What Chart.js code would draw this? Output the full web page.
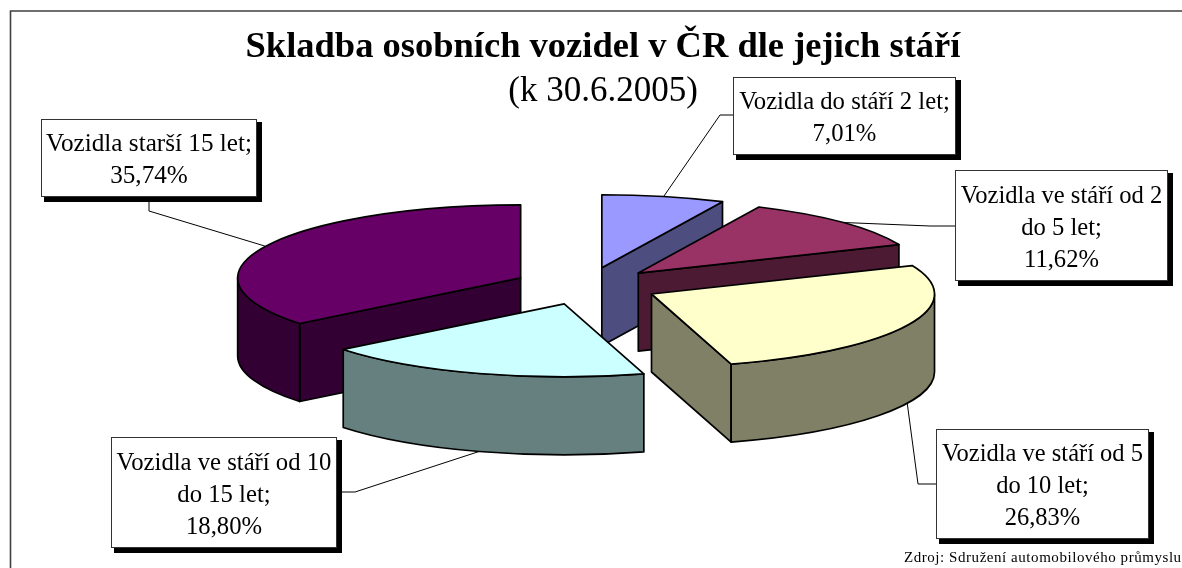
<!DOCTYPE html>
<html lang="cs">
<head>
<meta charset="utf-8">
<title>Skladba osobních vozidel v ČR</title>
<style>html,body{margin:0;padding:0;background:#fff}canvas{display:block}</style>
<script src="https://cdn.jsdelivr.net/npm/chart.js@4/dist/chart.umd.min.js"></script>
</head>
<body>
<canvas id="c" width="1182" height="568"></canvas>
<script>
const titleText = "Skladba osobních vozidel v ČR dle jejich stáří";
const subtitleText = "(k 30.6.2005)";
const sourceText = "Zdroj: Sdružení automobilového průmyslu";
const categories = ["Vozidla do stáří 2 let","Vozidla ve stáří od 2 do 5 let","Vozidla ve stáří od 5 do 10 let","Vozidla ve stáří od 10 do 15 let","Vozidla starší 15 let"];
const values = [7.01, 11.62, 26.83, 18.80, 35.74];
const topColors = ["#9999FF","#993366","#FFFFCC","#CCFFFF","#660066"];
const wallColors = ["#4D4D80","#4D1A33","#808066","#668080","#330033"];

// 3D projection settings
const view = {cx:586, cy:286, radius:283, squash:0.258, explode:72.5, depth:78};
// label boxes: x, y, w, h; words on the first line; leader elbow; font size
const labelBoxes = [
  {x:733,y:77,w:223,h:78,words:99,from:[733,115],elbow:[720,115],size:24.7},
  {x:955,y:170,w:213,h:111,words:5,from:[955,226],elbow:[930,226],size:24.6},
  {x:936,y:429,w:213,h:110,words:5,from:[936,484],elbow:[918,484],size:24.5},
  {x:111,y:437,w:226,h:111,words:5,from:[337,492],elbow:[355,492],size:24.7},
  {x:41,y:119,w:216,h:78,words:99,from:[149,197],elbow:[149,211],size:25.2}
];
const SERIF = '"Liberation Serif","Times New Roman",serif';

function apex(arc){
  const mid=(arc.startAngle+arc.endAngle)/2;
  return {
    x:view.cx+Math.cos(mid)*view.explode,
    y:view.cy+Math.sin(mid)*view.explode*view.squash,
    mid
  };
}
function pt(p,a,d){
  return [p.x+view.radius*Math.cos(a), p.y+view.radius*view.squash*Math.sin(a)+(d||0)];
}
function paint(ctx,fill){
  ctx.fillStyle=fill; ctx.fill();
  ctx.lineWidth=1.7; ctx.strokeStyle="#000"; ctx.lineJoin="round"; ctx.stroke();
}
function cutFace(ctx,p,a,fill){
  const q=pt(p,a);
  ctx.beginPath();
  ctx.moveTo(p.x,p.y); ctx.lineTo(q[0],q[1]);
  ctx.lineTo(q[0],q[1]+view.depth); ctx.lineTo(p.x,p.y+view.depth);
  ctx.closePath(); paint(ctx,fill);
}
function arcWall(ctx,p,a0,a1,fill){
  const ry=view.radius*view.squash;
  const q=pt(p,a1);
  ctx.beginPath();
  ctx.ellipse(p.x,p.y,view.radius,ry,0,a0,a1);
  ctx.lineTo(q[0],q[1]+view.depth);
  ctx.ellipse(p.x,p.y+view.depth,view.radius,ry,0,a1,a0,true);
  ctx.closePath(); paint(ctx,fill);
}

const pie3d = {
  id:"pie3d",
  beforeDraw(chart){
    const ctx=chart.ctx;
    ctx.save();
    ctx.strokeStyle="#404040"; ctx.lineWidth=1.6;
    ctx.beginPath(); ctx.moveTo(10.5,568); ctx.lineTo(10.5,11); ctx.lineTo(1182,11); ctx.stroke();
    ctx.restore();
  },
  beforeDatasetsDraw(chart){
    const ctx=chart.ctx, arcs=chart.getDatasetMeta(0).data;
    const order=arcs.map((a,i)=>i).sort((i,j)=>apex(arcs[i]).y-apex(arcs[j]).y);
    for(const i of order){
      const arc=arcs[i], p=apex(arc), s=arc.startAngle, e=arc.endAngle;
      ctx.save();
      if(Math.cos(s)<-1e-6) cutFace(ctx,p,s,wallColors[i]);
      if(Math.cos(e)>1e-6) cutFace(ctx,p,e,wallColors[i]);
      const f0=Math.max(s,0), f1=Math.min(e,Math.PI);
      if(f1>f0) arcWall(ctx,p,f0,f1,wallColors[i]);
      // top face through the library's arc element, squashed
      ctx.save();
      ctx.translate(p.x,p.y); ctx.scale(1,view.squash); ctx.translate(-arc.x,-arc.y);
      arc.draw(ctx);
      ctx.restore();
      ctx.beginPath();
      ctx.moveTo(p.x,p.y);
      ctx.ellipse(p.x,p.y,view.radius,view.radius*view.squash,0,s,e);
      ctx.closePath();
      ctx.lineWidth=1.7; ctx.strokeStyle="#000"; ctx.lineJoin="round"; ctx.stroke();
      ctx.restore();
    }
    return false;
  },
  afterDraw(chart){
    const ctx=chart.ctx, arcs=chart.getDatasetMeta(0).data;
    ctx.save();
    labelBoxes.forEach((b,i)=>{
      const p=apex(arcs[i]);
      const front=Math.sin(p.mid)>0;
      const end=pt(p,p.mid,front?view.depth:0);
      ctx.strokeStyle="#000"; ctx.lineWidth=1;
      ctx.beginPath();
      ctx.moveTo(b.from[0],b.from[1]); ctx.lineTo(b.elbow[0],b.elbow[1]); ctx.lineTo(end[0],end[1]);
      ctx.stroke();
      ctx.fillStyle="#000";
      ctx.fillRect(b.x+3,b.y+3,b.w+2,b.h+2);
      ctx.fillStyle="#fff";
      ctx.fillRect(b.x,b.y,b.w,b.h);
      ctx.strokeStyle="#333"; ctx.lineWidth=1;
      ctx.strokeRect(b.x+0.5,b.y+0.5,b.w-1,b.h-1);
      const words=(categories[i]+";").split(" ");
      const lines=[words.slice(0,b.words).join(" ")];
      if(words.length>b.words) lines.push(words.slice(b.words).join(" "));
      lines.push(values[i].toFixed(2).replace(".",",")+"%");
      ctx.font=b.size+"px "+SERIF; ctx.textAlign="center"; ctx.textBaseline="alphabetic"; ctx.fillStyle="#000";
      lines.forEach((t,n)=>{
        ctx.fillText(t,b.x+b.w/2,b.y+b.h/2+(n-(lines.length-1)/2)*32+9);
      });
    });
    ctx.font="15px "+SERIF; ctx.letterSpacing="0.55px"; ctx.textAlign="left"; ctx.fillStyle="#000";
    ctx.fillText(sourceText,904,562);
    ctx.letterSpacing="0px";
    ctx.restore();
  }
};

new Chart(document.getElementById("c"),{
  type:"pie",
  data:{labels:categories,datasets:[{data:values,backgroundColor:topColors,borderWidth:0,radius:view.radius,hoverOffset:0}]},
  plugins:[pie3d],
  options:{
    responsive:false,animation:false,events:[],
    layout:{padding:{left:24}},
    plugins:{
      legend:{display:false},tooltip:{enabled:false},
      title:{display:true,text:titleText,color:"#000",font:{family:SERIF,size:36.5,weight:"bold",lineHeight:1.1},padding:{top:28,bottom:0}},
      subtitle:{display:true,text:subtitleText,color:"#000",font:{family:SERIF,size:35,weight:"normal",lineHeight:1.1},padding:{top:4,bottom:0}}
    }
  }
});
</script>
</body>
</html>
